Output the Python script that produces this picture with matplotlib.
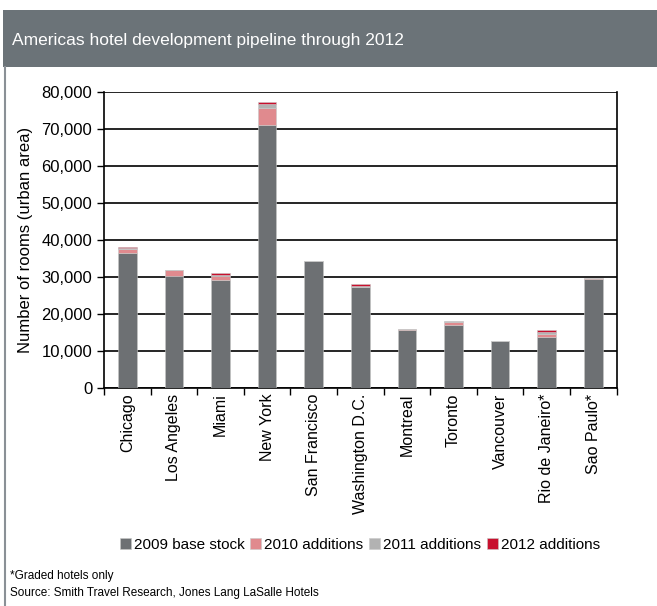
import matplotlib.pyplot as plt
import numpy as np
from matplotlib.patches import Rectangle
from matplotlib.lines import Line2D
from matplotlib.ticker import FuncFormatter, FixedLocator

plt.rcParams['font.family'] = ['Liberation Sans', 'DejaVu Sans']

# Rooms per city (urban area)
cities = ['Chicago', 'Los Angeles', 'Miami', 'New York', 'San Francisco',
          'Washington D.C.', 'Montreal', 'Toronto', 'Vancouver',
          'Rio de Janeiro*', 'Sao Paulo*']
base_2009 = [36600, 30300, 29300, 71200, 34300, 27200, 15700, 17100, 12800, 13900, 29400]
add_2010 = [1100, 1700, 900, 4400, 0, 200, 150, 800, 0, 600, 200]
add_2011 = [200, 0, 400, 1200, 0, 200, 0, 200, 0, 600, 0]
add_2012 = [200, 0, 400, 600, 0, 600, 100, 0, 0, 700, 0]

series = [base_2009, add_2010, add_2011, add_2012]
labels = ['2009 base stock', '2010 additions', '2011 additions', '2012 additions']
colors = ['#6d7073', '#e08a8e', '#b2b2b2', '#c8102e']

W, H = 657, 606
fig = plt.figure(figsize=(W / 100, H / 100), dpi=100)

# header band with title
fig.patches.append(Rectangle((3 / W, 1 - 67 / H), 1, 57 / H, transform=fig.transFigure,
                             facecolor='#6b7378', edgecolor='none', zorder=0))
fig.text(12 / W, 1 - 41 / H, 'Americas hotel development pipeline through 2012',
         color='white', fontsize=12.5, va='center', ha='left')
fig.add_artist(Line2D([4.5 / W, 4.5 / W], [0, 1 - 67 / H], transform=fig.transFigure,
                      color='#8a9096', linewidth=1.5))

ax = fig.add_axes([104 / W, 1 - 388 / H, (616.5 - 104) / W, (388 - 92) / H])
x = np.arange(len(cities))
bottom = np.zeros(len(cities))
for vals, lab, col in zip(series, labels, colors):
    vals = np.array(vals, dtype=float)
    ax.bar(x, vals, width=0.4, bottom=bottom, color=col, label=lab,
           edgecolor='#c8c8c8', linewidth=0.4, zorder=3)
    bottom += vals

ax.set_xlim(-0.5, len(cities) - 0.5)
ax.set_ylim(0, 80000)
ax.set_yticks(np.arange(0, 80001, 10000))
ax.yaxis.set_major_formatter(FuncFormatter(lambda v, p: f'{int(v):,}'))
ax.yaxis.grid(True, color='black', linewidth=1.2, zorder=0)
ax.set_axisbelow(True)

ax.set_xticks(x)
ax.set_xticklabels(cities, rotation=90, fontsize=11.5)
ax.tick_params(axis='x', which='major', length=0, pad=4)
ax.xaxis.set_minor_locator(FixedLocator(np.arange(-0.5, len(cities), 1.0)))
ax.tick_params(axis='x', which='minor', length=5, width=1, direction='out')
ax.tick_params(axis='y', labelsize=12, length=5, width=1, direction='out')

for side in ['left', 'bottom', 'right']:
    ax.spines[side].set_linewidth(1.2)
ax.spines['top'].set_visible(False)

ax.set_ylabel('Number of rooms (urban area)', fontsize=12, labelpad=6)

ax.legend(loc='center', bbox_to_anchor=(360 / W, 1 - 545 / H), bbox_transform=fig.transFigure,
          ncol=4, frameon=False, fontsize=11, handlelength=0.7, handleheight=0.7,
          handletextpad=0.2, columnspacing=0.4)

fig.text(10 / W, 1 - 576 / H, '*Graded hotels only', fontsize=8.5, va='center')
fig.text(10 / W, 1 - 593 / H, 'Source: Smith Travel Research, Jones Lang LaSalle Hotels',
         fontsize=8.5, va='center')

fig.savefig('out.png', dpi=100)
